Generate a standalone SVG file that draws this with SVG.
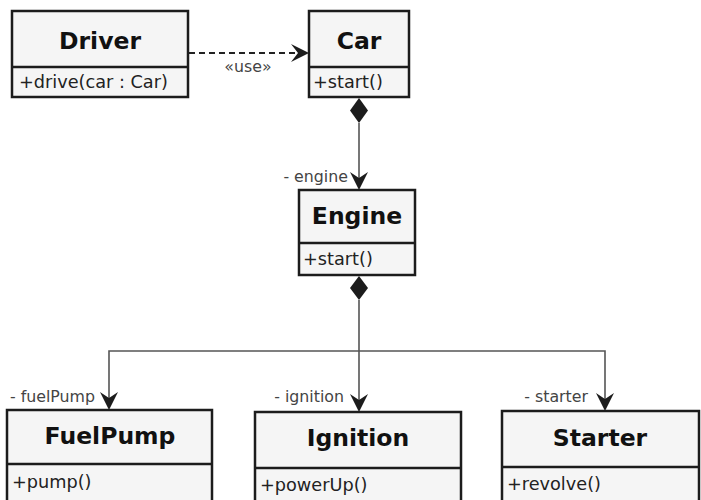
<svg xmlns="http://www.w3.org/2000/svg" width="701" height="500" viewBox="0 0 701 500">
<defs>
<style>
.box{fill:#f5f5f5;stroke:#1c1c1c;stroke-width:2.5}
.div{stroke:#1c1c1c;stroke-width:2.5}
.title{font-family:"DejaVu Sans",sans-serif;font-weight:bold;font-size:23.5px;fill:#111;text-anchor:middle}
.mem{font-family:"DejaVu Sans",sans-serif;font-size:17.7px;fill:#222}
.lbl{font-family:"DejaVu Sans",sans-serif;font-size:15.8px;fill:#444;text-anchor:end}
.conn{fill:none;stroke:#555;stroke-width:1.6}
.head{fill:#1c1c1c}
</style>
</defs>
<rect width="701" height="500" fill="#fff"/>
<g id="connectors">
<path d="M189,53 H304" fill="none" stroke="#222" stroke-width="2" stroke-dasharray="6,4"/>
<path class="head" d="M309,53 L291,44 L298,53 L291,62 Z"/>
<text x="248" y="72" class="lbl" style="text-anchor:middle">«use»</text>
<path class="conn" d="M359,123 V186"/>
<path class="head" d="M359,98 L368,110.5 L359,123 L350,110.5 Z"/>
<path class="head" d="M359,190 L350,172 L359,178 L368,172 Z"/>
<text x="348" y="182" class="lbl">- engine</text>
<path class="head" d="M359,276 L368,288 L359,300 L350,288 Z"/>
<path class="conn" d="M359,300 V408 M109,407 V351 H605 V407"/>
<path class="head" d="M109,410 L100,392 L109,398 L118,392 Z"/>
<path class="head" d="M359,412 L350,394 L359,400 L368,394 Z"/>
<path class="head" d="M605,411 L596,393 L605,399 L614,393 Z"/>
<text x="95" y="402" class="lbl">- fuelPump</text>
<text x="344" y="402" class="lbl">- ignition</text>
<text x="588" y="402" class="lbl">- starter</text>
</g>
<g id="Driver">
<rect class="box" x="12" y="11" width="176" height="86"/>
<line class="div" x1="12" y1="67" x2="188" y2="67"/>
<text class="title" x="100" y="49">Driver</text>
<text class="mem" x="19" y="88">+drive(car : Car)</text>
</g>
<g id="Car">
<rect class="box" x="309" y="11" width="100" height="86"/>
<line class="div" x1="309" y1="67" x2="409" y2="67"/>
<text class="title" x="359" y="49">Car</text>
<text class="mem" x="313" y="88">+start()</text>
</g>
<g id="Engine">
<rect class="box" x="299" y="190" width="116" height="85"/>
<line class="div" x1="299" y1="243" x2="415" y2="243"/>
<text class="title" x="357" y="224">Engine</text>
<text class="mem" x="303" y="265">+start()</text>
</g>
<g id="FuelPump">
<rect class="box" x="7" y="410" width="205" height="100"/>
<line class="div" x1="7" y1="464" x2="212" y2="464"/>
<text class="title" x="110" y="444">FuelPump</text>
<text class="mem" x="12" y="488">+pump()</text>
</g>
<g id="Ignition">
<rect class="box" x="255" y="412" width="206" height="100"/>
<line class="div" x1="255" y1="468" x2="461" y2="468"/>
<text class="title" x="358" y="446">Ignition</text>
<text class="mem" x="260" y="491">+powerUp()</text>
</g>
<g id="Starter">
<rect class="box" x="502" y="411" width="197" height="100"/>
<line class="div" x1="502" y1="467" x2="699" y2="467"/>
<text class="title" x="600" y="446">Starter</text>
<text class="mem" x="507" y="490">+revolve()</text>
</g>
</svg>
